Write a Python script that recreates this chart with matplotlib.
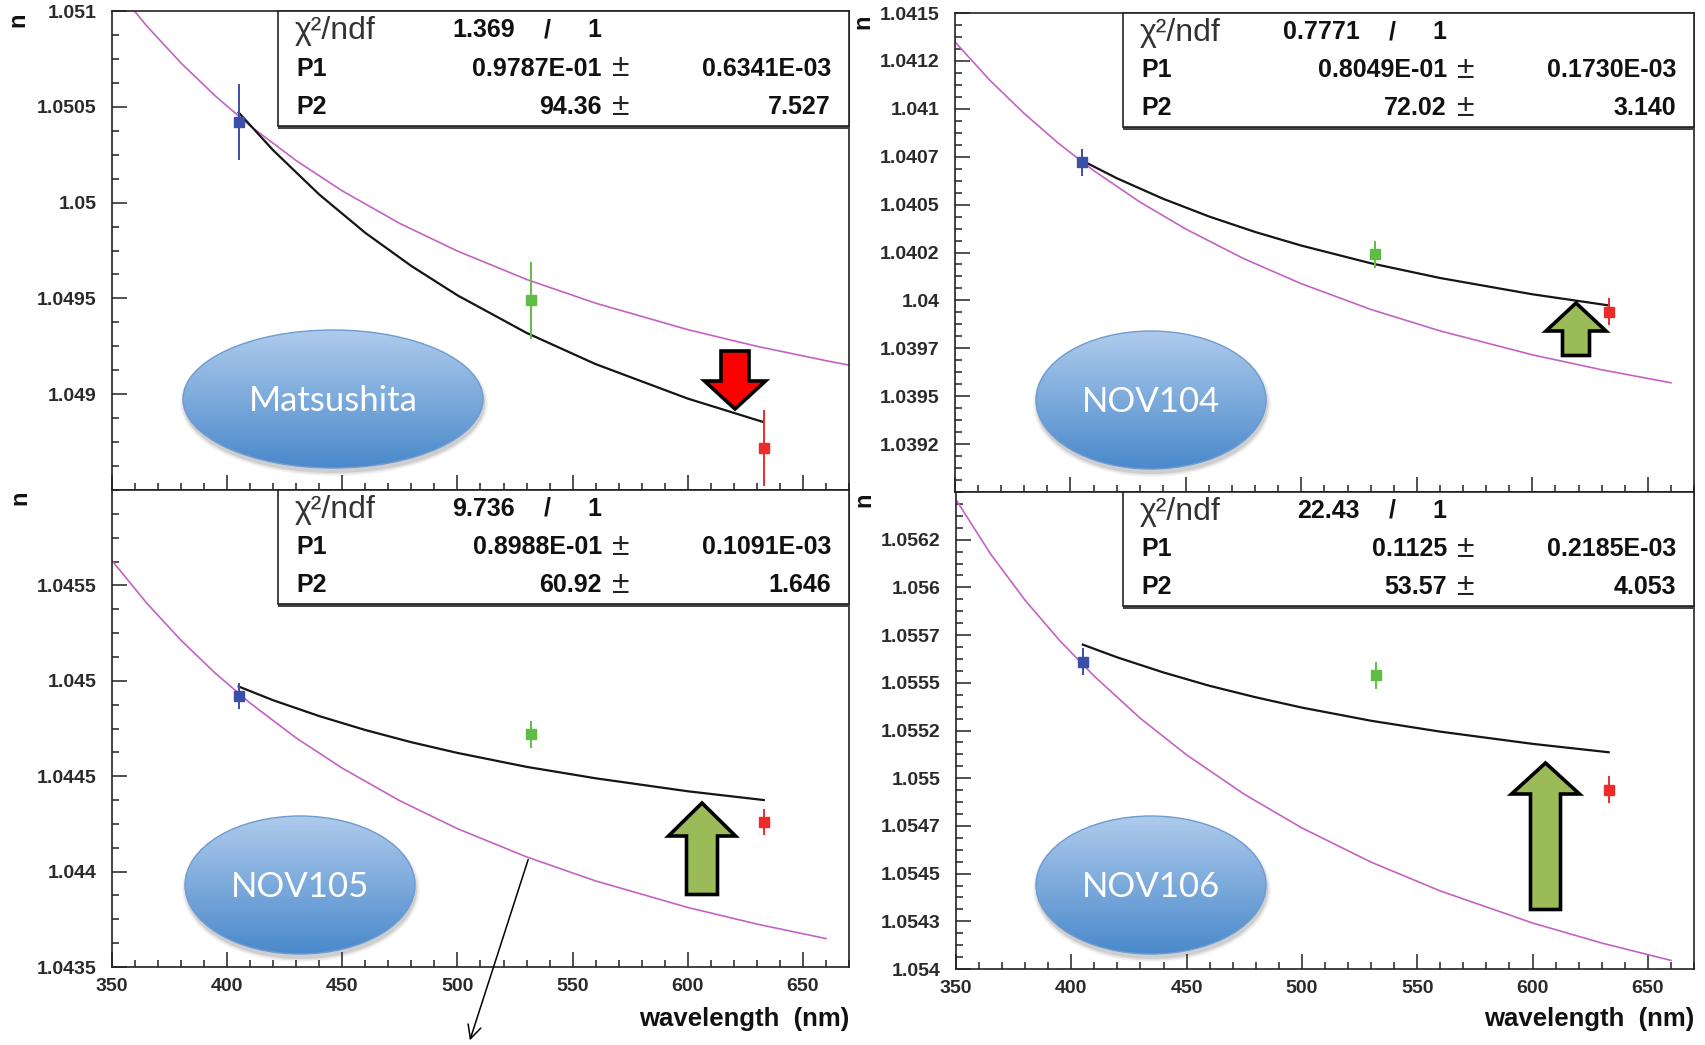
import matplotlib
matplotlib.use("Agg")
import matplotlib.pyplot as plt
import matplotlib.colors as mcolors
import numpy as np
from matplotlib.patches import Ellipse, Polygon, Rectangle
from matplotlib.ticker import MultipleLocator

plt.rcParams['font.family'] = ['Liberation Sans', 'DejaVu Sans']

# ---------------- data ----------------
samples = ["Matsushita", "NOV104", "NOV105", "NOV106"]
laser_wl = [405, 532, 633]
laser_colors = ["#3a4fa8", "#5fbd45", "#ee2b2b"]

n_matsushita = [1.05042, 1.04949, 1.04872]
n_nov104 = [1.04072, 1.04024, 1.03994]
n_nov105 = [1.04492, 1.04472, 1.04426]
n_nov106 = [1.05561, 1.05554, 1.05494]
err_matsushita = [0.00020, 0.00020, 0.00020]
err_nov104 = [0.00007, 0.00007, 0.00007]
err_nov105 = [0.00007, 0.00007, 0.00007]
err_nov106 = [0.00007, 0.00007, 0.00007]

# black fit curves
fit_wl = [405, 420, 440, 460, 480, 500, 530, 560, 600, 633]
fit_matsushita = [1.050470, 1.050273, 1.050042, 1.049842, 1.049669, 1.049516, 1.049320, 1.049157, 1.048977, 1.048854]
fit_nov104 = [1.040730, 1.040638, 1.040531, 1.040438, 1.040357, 1.040286, 1.040194, 1.040117, 1.040032, 1.039974]
fit_nov105 = [1.044970, 1.044898, 1.044815, 1.044742, 1.044678, 1.044622, 1.044549, 1.044489, 1.044421, 1.044375]
fit_nov106 = [1.055700, 1.055633, 1.055554, 1.055484, 1.055424, 1.055370, 1.055301, 1.055244, 1.055180, 1.055136]

# magenta reference curves
ref_wl = [350, 365, 380, 395, 410, 430, 450, 475, 500, 530, 560, 600, 630, 660]
ref_wl_matsushita = [350, 365, 380, 395, 410, 430, 450, 475, 500, 530, 560, 600, 630, 660, 670]
ref_matsushita = [1.051143, 1.050923, 1.050728, 1.050555, 1.050400, 1.050219, 1.050061, 1.049891, 1.049747, 1.049599, 1.049475, 1.049337, 1.049250, 1.049175, 1.049152]
ref_nov104 = [1.041349, 1.041150, 1.040975, 1.040818, 1.040678, 1.040514, 1.040372, 1.040218, 1.040087, 1.039953, 1.039841, 1.039716, 1.039638, 1.039570]
ref_nov105 = [1.045630, 1.045408, 1.045212, 1.045038, 1.044883, 1.044700, 1.044542, 1.044371, 1.044225, 1.044077, 1.043951, 1.043812, 1.043725, 1.043649]
ref_nov106 = [1.056460, 1.056175, 1.055932, 1.055721, 1.055534, 1.055313, 1.055122, 1.054916, 1.054739, 1.054560, 1.054409, 1.054241, 1.054136, 1.054045]

chi2 = ["1.369", "0.7771", "9.736", "22.43"]
ndf = ["1", "1", "1", "1"]
p1 = ["0.9787E-01", "0.8049E-01", "0.8988E-01", "0.1125"]
p1_err = ["0.6341E-03", "0.1730E-03", "0.1091E-03", "0.2185E-03"]
p2 = ["94.36", "72.02", "60.92", "53.57"]
p2_err = ["7.527", "3.140", "1.646", "4.053"]

ylims = [(1.0485, 1.051), (1.039, 1.0415), (1.0435, 1.046), (1.054, 1.0565)]
ytick_vals_matsushita = [1.049, 1.0495, 1.05, 1.0505, 1.051]
ytick_lab_matsushita = ["1.049", "1.0495", "1.05", "1.0505", "1.051"]
ytick_vals_nov104 = [1.03925, 1.0395, 1.03975, 1.04, 1.04025, 1.0405, 1.04075, 1.041, 1.04125, 1.0415]
ytick_lab_nov104 = ["1.0392", "1.0395", "1.0397", "1.04", "1.0402", "1.0405", "1.0407", "1.041", "1.0412", "1.0415"]
ytick_vals_nov105 = [1.0435, 1.044, 1.0445, 1.045, 1.0455]
ytick_lab_nov105 = ["1.0435", "1.044", "1.0445", "1.045", "1.0455"]
ytick_vals_nov106 = [1.054, 1.05425, 1.0545, 1.05475, 1.055, 1.05525, 1.0555, 1.05575, 1.056, 1.05625]
ytick_lab_nov106 = ["1.054", "1.0543", "1.0545", "1.0547", "1.055", "1.0552", "1.0555", "1.0557", "1.056", "1.0562"]
x_label = "wavelength  (nm)"
y_label = "n"

# ---------------- layout ----------------
W, H = 1706, 1045
fig = plt.figure(figsize=(W / 100, H / 100), dpi=100)
fig.patch.set_facecolor("white")


def frac(l, t, r, b):
    return [l / W, 1 - b / H, (r - l) / W, (b - t) / H]


panel_rects = [(112, 11, 849, 490), (955, 13, 1694, 492), (112, 490, 849, 967), (956, 492, 1694, 969)]
meas = [n_matsushita, n_nov104, n_nov105, n_nov106]
errs = [err_matsushita, err_nov104, err_nov105, err_nov106]
fits = [fit_matsushita, fit_nov104, fit_nov105, fit_nov106]
refs = [(ref_wl_matsushita, ref_matsushita), (ref_wl, ref_nov104), (ref_wl, ref_nov105), (ref_wl, ref_nov106)]
yt = [(ytick_vals_matsushita, ytick_lab_matsushita), (ytick_vals_nov104, ytick_lab_nov104),
      (ytick_vals_nov105, ytick_lab_nov105), (ytick_vals_nov106, ytick_lab_nov106)]
yminor = [0.000125, 0.0000625, 0.000125, 0.0000625]
show_x = [False, False, True, True]

for i in range(4):
    ax = fig.add_axes(frac(*panel_rects[i]))
    ax.set_facecolor("white")
    ax.set_xlim(350, 670)
    ax.set_ylim(*ylims[i])
    ax.plot(refs[i][0], refs[i][1], color="#c462c4", lw=1.2, zorder=2, solid_joinstyle="round")
    ax.plot(fit_wl, fits[i], color="#151515", lw=1.6, zorder=3, solid_joinstyle="round")
    for k in range(3):
        ax.errorbar([laser_wl[k]], [meas[i][k]], yerr=[errs[i][k]], fmt="s", ms=7.5,
                    color=laser_colors[k], mec=laser_colors[k], elinewidth=1.4, capsize=0, zorder=5)
    ax.xaxis.set_major_locator(MultipleLocator(50))
    ax.xaxis.set_minor_locator(MultipleLocator(10))
    ax.set_yticks(yt[i][0])
    ax.set_yticklabels(yt[i][1])
    ax.yaxis.set_minor_locator(MultipleLocator(yminor[i]))
    ax.tick_params(which="both", direction="in", top=False, right=False, width=1.1, color="#222")
    ax.tick_params(which="major", length=10.5)
    ax.tick_params(which="minor", length=5)
    ax.tick_params(axis="y", pad=11, labelsize=14, labelcolor="#2a2a2a")
    ax.tick_params(axis="x", pad=8, labelsize=14, labelcolor="#2a2a2a", labelbottom=show_x[i])
    for lab in ax.get_xticklabels() + ax.get_yticklabels():
        lab.set_fontweight("bold")
    for s in ax.spines.values():
        s.set_linewidth(1.2)
        s.set_color("#222")

# ---------------- overlay (annotations) ----------------
ov = fig.add_axes([0, 0, 1, 1], zorder=20)
ov.set_xlim(0, W)
ov.set_ylim(H, 0)
ov.axis("off")

box_rects = [(278, 11, 849, 126), (1123, 13, 1694, 127), (278, 490, 849, 604), (1123, 492, 1694, 606)]
FS = 18
for i, (l, t, r, b) in enumerate(box_rects):
    ov.add_patch(Rectangle((l, t + 3), r - l, b - t, facecolor="#444", edgecolor="none", zorder=1))
    ov.add_patch(Rectangle((l, t), r - l, b - t, facecolor="white", edgecolor="#222", lw=1.2, zorder=2))
    h = b - t
    rows = [t + h / 6, t + h / 2, t + 5 * h / 6]
    kw = dict(va="center", fontsize=FS, fontweight="bold", color="#111", zorder=3)
    ov.text(l + 17, rows[0] + 1, "χ²/ndf", ha="left", va="center", fontsize=23, color="#333", zorder=3)
    ov.text(l + 237, rows[0], chi2[i], ha="right", **kw)
    ov.text(l + 269, rows[0], "/", ha="center", **kw)
    ov.text(l + 316, rows[0], ndf[i], ha="center", **kw)
    ov.text(l + 18, rows[1], "P1", ha="left", **kw)
    ov.text(l + 324, rows[1], p1[i], ha="right", **kw)
    ov.text(l + 343, rows[1], "±", ha="center", va="center", fontsize=23, color="#222", zorder=3)
    ov.text(r - 18, rows[1], p1_err[i], ha="right", **kw)
    ov.text(l + 18, rows[2], "P2", ha="left", **kw)
    ov.text(l + 324, rows[2], p2[i], ha="right", **kw)
    ov.text(l + 343, rows[2], "±", ha="center", va="center", fontsize=23, color="#222", zorder=3)
    ov.text(r - 18, rows[2], p2_err[i], ha="right", **kw)

# bubbles with sample names
bubble_geom = [(333, 399, 300, 138), (1151, 400, 230, 138), (300, 885, 230, 138), (1151, 885, 230, 138)]
top_c = np.array(mcolors.to_rgb("#aecbec"))
bot_c = np.array(mcolors.to_rgb("#4a89cb"))
g = np.linspace(0, 1, 256)[:, None]
grad_img = (top_c[None, :] * (1 - g) + bot_c[None, :] * g)[:, None, :]
for i, (cx, cy, w, h) in enumerate(bubble_geom):
    for k, a in [(8, 0.05), (5, 0.08), (2, 0.12)]:
        ov.add_patch(Ellipse((cx + 1, cy + 4), w + k, h + k, facecolor="#303030", edgecolor="none", alpha=a, zorder=3))
    e = Ellipse((cx, cy), w, h, facecolor="none", edgecolor="#6d9bd2", lw=1.0, zorder=5)
    ov.add_patch(e)
    im = ov.imshow(grad_img, extent=(cx - w / 2, cx + w / 2, cy + h / 2, cy - h / 2), origin="upper",
                   aspect="auto", interpolation="bilinear", zorder=4)
    im.set_clip_path(e)
    ov.text(cx, cy + 2, samples[i], color="white", fontsize=25, family=["Lato", "DejaVu Sans"],
            ha="center", va="center", zorder=6)

# block arrows
arrow_geom = [  # cx, tip, base, end, head half-width, shaft half-width, colour
    (735, 409, 381, 351, 30.5, 14, "#ff0000"),
    (1576, 303, 331, 355.5, 30, 13.5, "#9bbb59"),
    (702, 803, 836, 894.5, 33.5, 15.5, "#9bbb59"),
    (1545.5, 763, 794, 909.5, 34, 15, "#9bbb59"),
]
for cx, tip, base, end, hh, sh, fc in arrow_geom:
    pts = [(cx, tip), (cx + hh, base), (cx + sh, base), (cx + sh, end), (cx - sh, end), (cx - sh, base), (cx - hh, base)]
    ov.add_patch(Polygon(pts, closed=True, facecolor=fc, edgecolor="black", lw=2.6, joinstyle="miter", zorder=7))

# thin pointer arrow
ov.annotate("", xy=(469, 1043), xytext=(529, 857),
            arrowprops=dict(arrowstyle="->", lw=1.1, color="black", mutation_scale=24), zorder=8)

# axis titles
for (x, y) in [(849, 1019), (1694, 1019)]:
    ov.text(x, y, x_label, ha="right", va="center", fontsize=18.5, fontweight="bold", color="#111")
for (x, y) in [(18, 20), (19.5, 498), (863, 22), (864, 500)]:
    ov.text(x, y, y_label, ha="center", va="center", rotation=90, fontsize=17, fontweight="bold", color="#111")

ov.set_xlim(0, W)
ov.set_ylim(H, 0)
fig.savefig("out.png", dpi=100)
